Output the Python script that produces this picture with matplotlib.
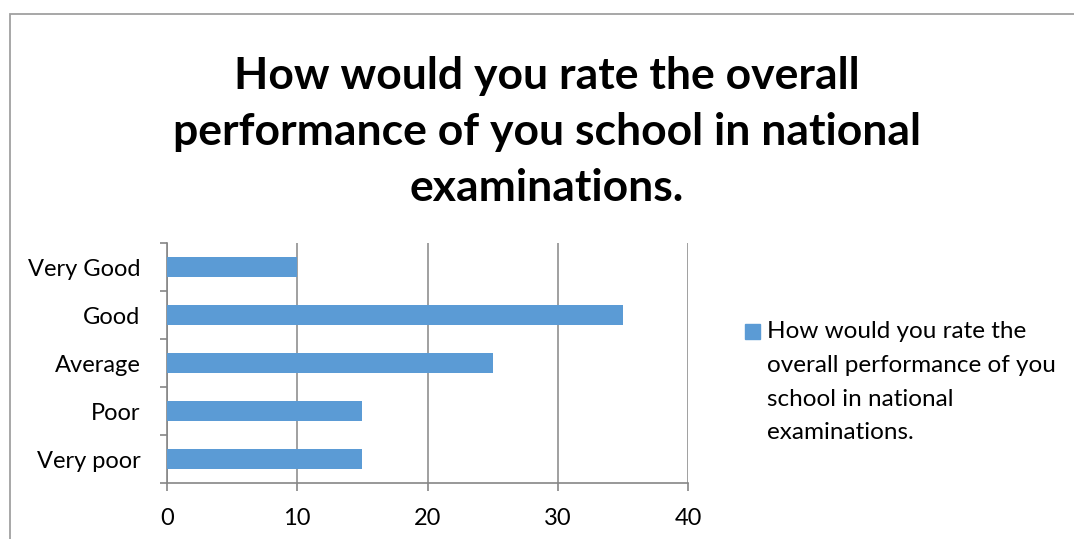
import matplotlib.pyplot as plt
from matplotlib.patches import Rectangle
import numpy as np

plt.rcParams["font.family"] = ["Lato", "DejaVu Sans"]

# survey answers, bottom to top
categories = ["Very poor", "Poor", "Average", "Good", "Very Good"]
counts = [15, 15, 25, 35, 10]
x_ticks = [0, 10, 20, 30, 40]

title = "How would you rate the overall\nperformance of you school in national\nexaminations."
series_name = "How would you rate the\noverall performance of you\nschool in national\nexaminations."

bar_color = "#5B9BD5"
axis_color = "#868686"

fig = plt.figure(figsize=(10.74, 5.39), dpi=100)
ax = fig.add_axes([167 / 1074, 1 - 483 / 539, (688 - 167) / 1074, (483 - 243) / 539])

y = np.arange(len(categories))
ax.barh(y, counts, height=0.4, color=bar_color, zorder=3)

ax.set_xlim(0, 40)
ax.set_ylim(-0.5, len(categories) - 0.5)
ax.set_xticks(x_ticks)
ax.set_xticklabels([str(t) for t in x_ticks], fontsize=17)
ax.set_yticks(y)
ax.set_yticklabels(categories, fontsize=17)
ax.set_yticks(np.arange(-0.5, len(categories)), minor=True)

ax.tick_params(axis="y", which="major", length=0, pad=19)
ax.tick_params(axis="y", which="minor", length=5, color=axis_color, width=1.2)
ax.tick_params(axis="x", length=6, color=axis_color, width=1.2, pad=12)

ax.grid(axis="x", color=axis_color, linewidth=1.1, zorder=0)
for side in ["top", "right"]:
    ax.spines[side].set_visible(False)
for side in ["left", "bottom"]:
    ax.spines[side].set_color(axis_color)
    ax.spines[side].set_linewidth(1.2)

fig.text(547 / 1074, 1 - 132 / 539, title, ha="center", va="center",
         fontsize=32, fontweight="bold", linespacing=1.48)

# legend drawn by hand: square key + wrapped label
fig.patches.append(Rectangle((745 / 1074, 1 - 339 / 539), 15 / 1074, 15 / 539,
                             transform=fig.transFigure, color=bar_color))
fig.text(767 / 1074, 1 - 321 / 539, series_name, ha="left", va="top",
         fontsize=17.5, linespacing=1.75)

# outer chart frame
fig.patches.append(Rectangle((10 / 1074, -0.1), 1.2, 1 - 14 / 539 + 0.1,
                             transform=fig.transFigure, fill=False,
                             edgecolor="#A0A0A0", linewidth=1.3))

fig.savefig("out.png", dpi=100)
